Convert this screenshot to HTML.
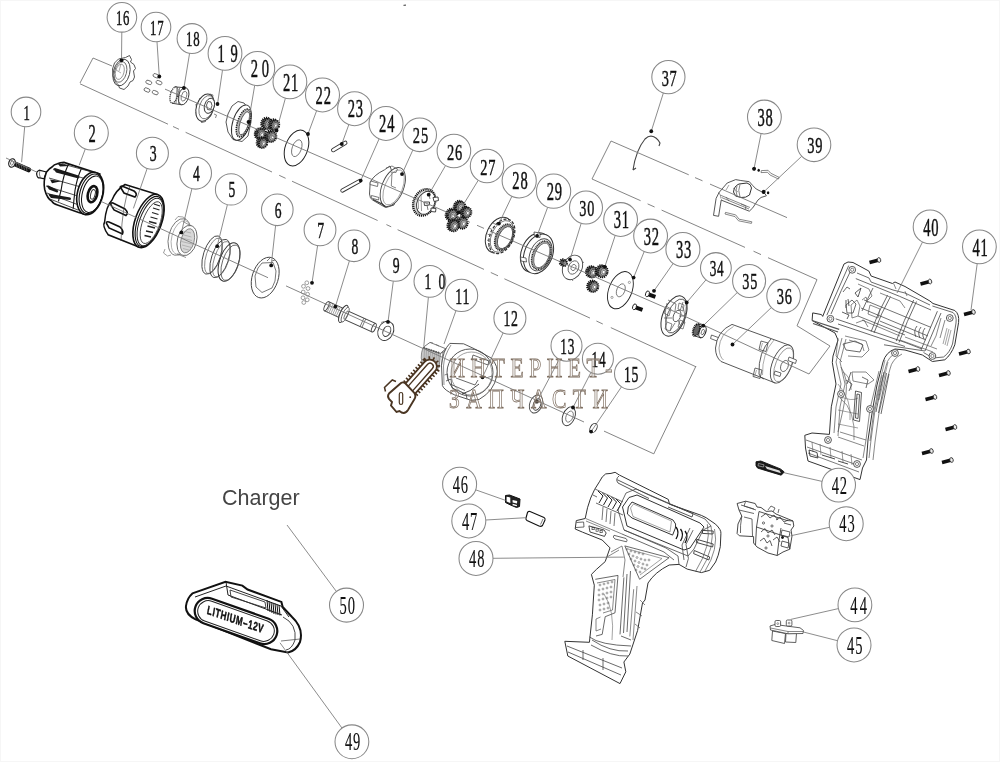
<!DOCTYPE html>
<html><head><meta charset="utf-8"><style>
html,body{margin:0;padding:0;background:#fff;}
body{width:1000px;height:762px;overflow:hidden;position:relative;font-family:"Liberation Sans",sans-serif;}
svg{position:absolute;left:0;top:0;will-change:transform;}
</style></head><body>
<svg width="1000" height="762" viewBox="0 0 1000 762">
<rect width="1000" height="762" fill="#fff"/>
<rect x="0.5" y="0.5" width="999" height="761" fill="none" stroke="#f6f6f6" stroke-width="1"/>
<path d="M403.5,5.3 L406,5.1" stroke="#333" stroke-width="1"/>
<g ><path d="M14,163.5 L28.5,169.8" stroke="#111" stroke-width="5" stroke-linecap="round"/><path d="M16,162 L17,167 M18.5,163 L19.5,168 M21,164 L22,169 M23.5,165 L24.5,170 M26,166 L27,171" stroke="#888" stroke-width="0.6"/><ellipse cx="12" cy="163" rx="3.2" ry="4.3" transform="rotate(16 12 163)" fill="#fff" stroke="#222" stroke-width="1.2"/><ellipse cx="12" cy="163" rx="1.4" ry="2.2" transform="rotate(16 12 163)" fill="none" stroke="#555" stroke-width="0.8"/></g><g ><path d="M46.5,172 L39.2,170.2 Q36,171.5 36.8,175 Q37.5,178.5 40.1,177.8 L44,178.8 Z" fill="#fff" stroke="#111" stroke-width="1.2"/><path d="M40,170.5 Q38.5,174 40.3,177.6" fill="none" stroke="#444" stroke-width="0.7"/><path d="M52,167 Q54,164.5 57.5,163.8 Q60,162.4 64,162.4 L99.8,173.9 L85.1,214.3 L78.7,212.4 L57.5,205.1 Q53,203.5 52,201.4 Q47,198.5 44.7,189.5 Q43,181 46.5,172 Q49,168.5 52,167 Z" fill="#fff" stroke="#111" stroke-width="1.6"/><path d="M68.6,163.8 Q63,176 61.2,189.5 Q59.5,196 58.5,201.4 M81.4,168.4 Q77,178 75,190.4 Q73.8,200 73.2,208.8" fill="none" stroke="#111" stroke-width="1.1"/><path d="M62,163.8 L92,172 M53,169.5 L90,180 M49,178 L88,189 M46,186 L84,198 M47,193 L80,205.5 M50,199 L78,210" fill="none" stroke="#222" stroke-width="0.8"/><path d="M54,169.5 Q52.5,168 55,168 L78.5,175.5 Q80.5,177 78.5,178.6 L56,172.4 Z" fill="#1a1a1a"/><path d="M47,186.5 Q46,185 48.5,185.5 L57.5,190 Q59,192.4 57,192.5 L49,189.5 Z" fill="#1a1a1a"/><path d="M48.6,195 Q48,193.5 50.5,194 L70.2,197.5 Q72,199 70,200 L51,198 Z" fill="#1a1a1a"/><path d="M50,179.5 L61.2,181.2 L52,183.2 Z" fill="#1a1a1a"/><path d="M58,164 Q56,163.5 58,163 L70,166 L60,166.5 Z" fill="#1a1a1a"/><ellipse cx="90.2" cy="193.5" rx="12.7" ry="21.7" transform="rotate(14.7 90.2 193.5)" fill="#fff" stroke="#111" stroke-width="1.6"/><ellipse cx="91.2" cy="193.8" rx="11.3" ry="20.3" transform="rotate(14.7 91.2 193.8)" fill="none" stroke="#111" stroke-width="1.1"/><ellipse cx="92.3" cy="194.2" rx="10" ry="18.7" transform="rotate(14.7 92.3 194.2)" fill="none" stroke="#111" stroke-width="1"/><ellipse cx="92.5" cy="194.2" rx="4.6" ry="8.2" transform="rotate(14.7 92.5 194.2)" fill="none" stroke="#111" stroke-width="2.6"/><ellipse cx="92.9" cy="194.4" rx="2.2" ry="4.9" transform="rotate(14.7 92.9 194.4)" fill="none" stroke="#333" stroke-width="1"/></g><g ><path d="M125,184.5 L157.4,194.6 L138.2,246.8 L108.2,234.8 Q102,226 104.6,222 Q106,206 112,200 Q116,190 125,184.5 Z" fill="#fff" stroke="#111" stroke-width="1.5"/><path d="M121,188 Q119,186.5 122,186 L134,191 Q138,194 135,197 L124,193 Z" fill="none" stroke="#111" stroke-width="1.6"/><path d="M111,205 Q110,202.5 113,203 L125,209 Q129,213 126,215.5 L114,210 Z" fill="none" stroke="#111" stroke-width="1.6"/><path d="M106.5,223.5 Q106,221 109,222 L120,227 Q124,231 122.5,234 L109,228 Z" fill="none" stroke="#111" stroke-width="1.6"/><path d="M130,186 Q122,205 121,241" fill="none" stroke="#333" stroke-width="0.6"/><ellipse cx="148.5" cy="221" rx="13.2" ry="28" transform="rotate(20 148.5 221)" fill="#fff" stroke="#111" stroke-width="1.6"/><ellipse cx="149.4" cy="221.5" rx="11.8" ry="26.4" transform="rotate(20 149.4 221.5)" fill="none" stroke="#111" stroke-width="1.1"/><ellipse cx="150.2" cy="222" rx="10.6" ry="25" transform="rotate(20 150.2 222)" fill="none" stroke="#222" stroke-width="1"/><ellipse cx="151.2" cy="222.6" rx="8.6" ry="22" transform="rotate(20 151.2 222.6)" fill="none" stroke="#333" stroke-width="0.8"/><path d="M154,204 L160,206 M153,208 L159.5,210 M152,212.5 L158.5,214.5 M150.5,217 L157.5,219 M149,221.5 L156.5,223.5 M147.5,226 L155,228 M146,231 L153,232.5 M144.5,235.5 L151,237" stroke="#222" stroke-width="1.3" fill="none"/></g><g ><ellipse cx="179.5" cy="237" rx="10.8" ry="18.8" transform="rotate(15 179.5 237)" fill="#fff" stroke="#666" stroke-width="0.8"/><ellipse cx="181" cy="237.5" rx="9.2" ry="17.2" transform="rotate(15 181 237.5)" fill="none" stroke="#888" stroke-width="0.6"/><path d="M175,220 L178,216.5 L183,217 L186,219 M165,249 L163.5,253 L167.5,256 L171,255" fill="none" stroke="#777" stroke-width="0.7"/><path d="M183,221.5 L192,226.5 M177,254 L186,257.5" fill="none" stroke="#666" stroke-width="0.7"/><ellipse cx="187" cy="240.5" rx="9.6" ry="15.4" transform="rotate(15 187 240.5)" fill="#fff" stroke="#555" stroke-width="0.8"/><ellipse cx="187.5" cy="240.8" rx="6.6" ry="12.4" transform="rotate(15 187.5 240.8)" fill="#d8d8d8" stroke="#666" stroke-width="0.7"/><path d="M183,231 L191,233 M182,234.5 L191.5,237 M181.5,238 L192,240.5 M181.5,241.5 L192,244 M182,245 L191.5,247.5 M183,248.5 L190.5,250.5" stroke="#999" stroke-width="0.6"/></g><g ><ellipse cx="212" cy="255" rx="8.5" ry="20" transform="rotate(18 212 255)" fill="none" stroke="#444" stroke-width="0.9"/><ellipse cx="213.5" cy="255.8" rx="7.2" ry="18.5" transform="rotate(18 213.5 255.8)" fill="none" stroke="#666" stroke-width="0.7"/><ellipse cx="220" cy="258.5" rx="8.5" ry="20" transform="rotate(18 220 258.5)" fill="none" stroke="#444" stroke-width="0.9"/><ellipse cx="221.5" cy="259.2" rx="7.2" ry="18.5" transform="rotate(18 221.5 259.2)" fill="none" stroke="#666" stroke-width="0.7"/><ellipse cx="229" cy="262" rx="9.5" ry="20" transform="rotate(18 229 262)" fill="none" stroke="#333" stroke-width="1"/><ellipse cx="230.5" cy="262.7" rx="8.1" ry="18.5" transform="rotate(18 230.5 262.7)" fill="none" stroke="#555" stroke-width="0.8"/></g><g ><ellipse cx="265.2" cy="277.6" rx="13" ry="21" transform="rotate(18 265.2 277.6)" fill="#fff" stroke="#444" stroke-width="0.9"/><path d="M262,263 L273,262.5 L276,271 L275,281 L272,288 L262,292.5 L256,287 L255,276 L258,268 Z" fill="none" stroke="#555" stroke-width="0.8"/><path d="M267,261 L270,258 M272,261 L275,260" stroke="#555" stroke-width="0.8"/></g><circle cx="306.8" cy="282.8" r="1.9" fill="none" stroke="#777" stroke-width="0.7"/><circle cx="303.5" cy="286.3" r="1.9" fill="none" stroke="#777" stroke-width="0.7"/><circle cx="308" cy="288.5" r="1.9" fill="none" stroke="#777" stroke-width="0.7"/><circle cx="303.2" cy="292" r="1.9" fill="none" stroke="#777" stroke-width="0.7"/><circle cx="307.6" cy="294.2" r="1.9" fill="none" stroke="#777" stroke-width="0.7"/><circle cx="303" cy="297.8" r="1.9" fill="none" stroke="#777" stroke-width="0.7"/><circle cx="307.2" cy="299.8" r="1.9" fill="none" stroke="#777" stroke-width="0.7"/><circle cx="303.8" cy="302.5" r="1.9" fill="none" stroke="#777" stroke-width="0.7"/><g transform="translate(326.5 306.2) rotate(24.5)"><rect x="0" y="-5" width="17" height="10" fill="#fff" stroke="#444" stroke-width="0.9"/><path d="M3,-5 L3,5 M5,-5 L5,5 M7,-5 L7,5 M9,-5 L9,5 M11,-5 L11,5 M13,-5 L13,5 M15,-5 L15,5" stroke="#999" stroke-width="0.8"/><ellipse cx="0" cy="0" rx="1.8" ry="5" transform="rotate(0 0 0)" fill="#fff" stroke="#444" stroke-width="0.9"/><rect x="20" y="-4.6" width="32" height="9.2" fill="#fff" stroke="#444" stroke-width="0.9"/><path d="M39,-4.6 L39,4.6 M41,-4.6 L41,4.6" stroke="#555" stroke-width="0.7"/><ellipse cx="52" cy="0" rx="1.7" ry="4.6" transform="rotate(0 52 0)" fill="#fff" stroke="#444" stroke-width="0.9"/><ellipse cx="18.5" cy="0" rx="3.2" ry="9.3" transform="rotate(0 18.5 0)" fill="#fff" stroke="#333" stroke-width="1"/><ellipse cx="20.5" cy="0" rx="2.6" ry="8" transform="rotate(0 20.5 0)" fill="#fff" stroke="#555" stroke-width="0.8"/><ellipse cx="21.5" cy="0" rx="1.2" ry="4.6" transform="rotate(0 21.5 0)" fill="none" stroke="#555" stroke-width="0.7"/></g><g ><ellipse cx="385.8" cy="330.9" rx="7.6" ry="10" transform="rotate(25 385.8 330.9)" fill="#fff" stroke="#333" stroke-width="0.9"/><ellipse cx="386.8" cy="331.3" rx="3.6" ry="5.4" transform="rotate(25 386.8 331.3)" fill="none" stroke="#444" stroke-width="1"/><path d="M381,322.5 L384,321.5" stroke="#555" stroke-width="0.6"/></g>
<g ><path d="M125.5,57.5 L129.5,55.5 L131.5,59.5 L130.5,62 L134,64.5 L135.5,68.5 L133.5,71 L134.5,77 L133,80.5 L130,82 L128,86 L124,89.5 L119.5,88 L118.5,85 L115.5,82 L113,76 L112.5,69 L114.5,63 L118.5,59 Z" fill="#fff" stroke="#444" stroke-width="0.9"/><ellipse cx="121.5" cy="72.5" rx="8.2" ry="13.6" transform="rotate(15 121.5 72.5)" fill="none" stroke="#444" stroke-width="0.9"/><ellipse cx="120.5" cy="72" rx="6" ry="10.5" transform="rotate(15 120.5 72)" fill="none" stroke="#555" stroke-width="0.8"/><ellipse cx="119.8" cy="71.8" rx="4.2" ry="7.8" transform="rotate(15 119.8 71.8)" fill="none" stroke="#777" stroke-width="0.7"/><path d="M114.5,69 L121,73 M121,64 L119,71" stroke="#777" stroke-width="0.6"/></g><rect x="153" y="74.1" width="6" height="3.4" rx="1.6" transform="rotate(22 156 75.8)" fill="#fff" stroke="#555" stroke-width="0.8"/><rect x="145.8" y="80.7" width="6" height="3.4" rx="1.6" transform="rotate(22 148.8 82.4)" fill="#fff" stroke="#555" stroke-width="0.8"/><rect x="156" y="80.89999999999999" width="6" height="3.4" rx="1.6" transform="rotate(22 159 82.6)" fill="#fff" stroke="#555" stroke-width="0.8"/><rect x="144" y="88.3" width="6" height="3.4" rx="1.6" transform="rotate(22 147 90)" fill="#fff" stroke="#555" stroke-width="0.8"/><rect x="152.2" y="90.89999999999999" width="6" height="3.4" rx="1.6" transform="rotate(22 155.2 92.6)" fill="#fff" stroke="#555" stroke-width="0.8"/><g ><path d="M173,87 L183,87.5 L187.5,105 L175,103 Z" fill="#fff" stroke="none"/><ellipse cx="174" cy="95" rx="3.6" ry="8.3" transform="rotate(15 174 95)" fill="#fff" stroke="#333" stroke-width="1.3" stroke-dasharray="1.2 0.8"/><ellipse cx="183.6" cy="96.2" rx="5" ry="8.8" transform="rotate(15 183.6 96.2)" fill="#fff" stroke="#333" stroke-width="0.9"/><path d="M174.5,86.8 L183,87.6 M172,103.2 L181.5,104.8" stroke="#333" stroke-width="0.9"/><path d="M177,88 L176,103.5 M179.5,88 L178.5,104" stroke="#555" stroke-width="0.7"/><ellipse cx="184" cy="96.2" rx="2.5" ry="5" transform="rotate(15 184 96.2)" fill="none" stroke="#555" stroke-width="0.7"/></g><g ><path d="M199,99 L203,97 L203.5,100 M196,104 L200,103 L200.5,107 L196.5,108 Z M196,112 L200,111 L200.5,115 L196.5,116 Z M201,119 L205,118 L205.5,121.5 L201.5,122.5 Z" fill="#fff" stroke="#444" stroke-width="0.8"/><ellipse cx="205" cy="107.6" rx="8.6" ry="14" transform="rotate(18 205 107.6)" fill="#fff" stroke="#333" stroke-width="1"/><ellipse cx="206.5" cy="107.2" rx="7" ry="12" transform="rotate(18 206.5 107.2)" fill="none" stroke="#555" stroke-width="0.7"/><ellipse cx="209.4" cy="105.8" rx="4.8" ry="7.8" transform="rotate(18 209.4 105.8)" fill="#fff" stroke="#333" stroke-width="0.9"/><path d="M208,101.5 L211,102 L212,105.5 L210.5,110 L207.5,109.5 L206.5,105 Z" fill="none" stroke="#333" stroke-width="0.8"/><path d="M210,94 L213,95 L212.5,98 M214,114 L216.5,115 L215.5,118" fill="none" stroke="#555" stroke-width="0.7"/></g><g ><path d="M238,101.5 L244,103 L249.5,110 L251,122 L248,136 L242,141.5 L233,139.5 L228,132 L226,122 L228,114 L232,106 Z" fill="#fff" stroke="#444" stroke-width="0.9"/><ellipse cx="241.4" cy="122.6" rx="8.6" ry="18.4" transform="rotate(18 241.4 122.6)" fill="#fff" stroke="#333" stroke-width="1"/><ellipse cx="243.5" cy="123" rx="6" ry="14.5" transform="rotate(18 243.5 123)" fill="#bbb" stroke="#222" stroke-width="1.6" stroke-dasharray="1.3 0.9"/><ellipse cx="244.3" cy="123.2" rx="4.2" ry="12" transform="rotate(18 244.3 123.2)" fill="#fff" stroke="#444" stroke-width="0.8"/></g><g ><ellipse cx="265.79999999999995" cy="123.1" rx="4.428" ry="5.4" transform="rotate(20 265.79999999999995 123.1)" fill="#555" stroke="#111" stroke-width="2.1" stroke-dasharray="1.1 0.8"/><ellipse cx="267.9" cy="124.0" rx="4.32" ry="5.292" transform="rotate(20 267.9 124.0)" fill="#888" stroke="#111" stroke-width="1.9" stroke-dasharray="1.1 0.8"/><ellipse cx="268.4" cy="124.2" rx="2.7" ry="3.3480000000000003" transform="rotate(20 268.4 124.2)" fill="#bbb" stroke="#333" stroke-width="0.6"/><ellipse cx="268.59999999999997" cy="124.3" rx="1.35" ry="1.7280000000000002" transform="rotate(20 268.59999999999997 124.3)" fill="#fff" stroke="#333" stroke-width="0.5"/></g><g ><ellipse cx="273.0" cy="124.3" rx="4.1" ry="5" transform="rotate(20 273.0 124.3)" fill="#555" stroke="#111" stroke-width="2.1" stroke-dasharray="1.1 0.8"/><ellipse cx="275.1" cy="125.2" rx="4.0" ry="4.9" transform="rotate(20 275.1 125.2)" fill="#888" stroke="#111" stroke-width="1.9" stroke-dasharray="1.1 0.8"/><ellipse cx="275.6" cy="125.4" rx="2.5" ry="3.1" transform="rotate(20 275.6 125.4)" fill="#bbb" stroke="#333" stroke-width="0.6"/><ellipse cx="275.8" cy="125.5" rx="1.25" ry="1.6" transform="rotate(20 275.8 125.5)" fill="#fff" stroke="#333" stroke-width="0.5"/></g><g ><ellipse cx="259.4" cy="133.5" rx="4.428" ry="5.4" transform="rotate(20 259.4 133.5)" fill="#555" stroke="#111" stroke-width="2.1" stroke-dasharray="1.1 0.8"/><ellipse cx="261.5" cy="134.39999999999998" rx="4.32" ry="5.292" transform="rotate(20 261.5 134.39999999999998)" fill="#888" stroke="#111" stroke-width="1.9" stroke-dasharray="1.1 0.8"/><ellipse cx="262.0" cy="134.6" rx="2.7" ry="3.3480000000000003" transform="rotate(20 262.0 134.6)" fill="#bbb" stroke="#333" stroke-width="0.6"/><ellipse cx="262.2" cy="134.7" rx="1.35" ry="1.7280000000000002" transform="rotate(20 262.2 134.7)" fill="#fff" stroke="#333" stroke-width="0.5"/></g><g ><ellipse cx="269.79999999999995" cy="135.9" rx="4.428" ry="5.4" transform="rotate(20 269.79999999999995 135.9)" fill="#555" stroke="#111" stroke-width="2.1" stroke-dasharray="1.1 0.8"/><ellipse cx="271.9" cy="136.79999999999998" rx="4.32" ry="5.292" transform="rotate(20 271.9 136.79999999999998)" fill="#888" stroke="#111" stroke-width="1.9" stroke-dasharray="1.1 0.8"/><ellipse cx="272.4" cy="137.0" rx="2.7" ry="3.3480000000000003" transform="rotate(20 272.4 137.0)" fill="#bbb" stroke="#333" stroke-width="0.6"/><ellipse cx="272.59999999999997" cy="137.1" rx="1.35" ry="1.7280000000000002" transform="rotate(20 272.59999999999997 137.1)" fill="#fff" stroke="#333" stroke-width="0.5"/></g><g ><ellipse cx="261.0" cy="142.3" rx="4.1" ry="5" transform="rotate(20 261.0 142.3)" fill="#555" stroke="#111" stroke-width="2.1" stroke-dasharray="1.1 0.8"/><ellipse cx="263.1" cy="143.2" rx="4.0" ry="4.9" transform="rotate(20 263.1 143.2)" fill="#888" stroke="#111" stroke-width="1.9" stroke-dasharray="1.1 0.8"/><ellipse cx="263.6" cy="143.4" rx="2.5" ry="3.1" transform="rotate(20 263.6 143.4)" fill="#bbb" stroke="#333" stroke-width="0.6"/><ellipse cx="263.8" cy="143.5" rx="1.25" ry="1.6" transform="rotate(20 263.8 143.5)" fill="#fff" stroke="#333" stroke-width="0.5"/></g><g ><ellipse cx="296.5" cy="148" rx="11.2" ry="18.6" transform="rotate(20 296.5 148)" fill="#fff" stroke="#222" stroke-width="1"/><ellipse cx="296.8" cy="148.2" rx="4.6" ry="8.8" transform="rotate(20 296.8 148.2)" fill="none" stroke="#666" stroke-width="0.8"/></g><rect x="330.5" y="144.8" width="17.5" height="3.4" rx="1.7" transform="rotate(-31 339.2 146.5)" fill="#fff" stroke="#333" stroke-width="0.9"/><rect x="339.5" y="184.2" width="23" height="3.2" rx="1.6" transform="rotate(-29 351 185.8)" fill="#fff" stroke="#333" stroke-width="0.9"/><g ><path d="M390,166 L384.5,169.8 Q373,175.5 370.2,182.5 L369.5,194 Q370,198.5 372.2,199.8 L382,205.5 L386,207.5 L394,205 L398,190 Z" fill="#fff" stroke="#444" stroke-width="0.9"/><ellipse cx="392.8" cy="187" rx="10.8" ry="20.6" transform="rotate(22 392.8 187)" fill="#fff" stroke="#444" stroke-width="0.9"/><ellipse cx="393.6" cy="187.4" rx="8.8" ry="18.6" transform="rotate(22 393.6 187.4)" fill="none" stroke="#777" stroke-width="0.6"/><path d="M370.5,181 L378,183 L377.5,186.5 L370,184.5 Z M371.5,195.5 L379,197.5 L378.5,200 L371.2,198 Z" fill="#fff" stroke="#555" stroke-width="0.8"/><path d="M373,199.5 L382,204 L385.5,207" fill="none" stroke="#333" stroke-width="1.1"/><path d="M392,172.5 L391.3,186 L396,188 M386,168 L392,166 L397.5,169 L396,172.5 L390.5,172" fill="none" stroke="#555" stroke-width="0.7"/></g><g ><ellipse cx="424.2" cy="202.4" rx="10.4" ry="13.8" transform="rotate(25 424.2 202.4)" fill="#ddd" stroke="#111" stroke-width="2.4" stroke-dasharray="1.1 0.8"/><ellipse cx="425.8" cy="202.8" rx="8.6" ry="12" transform="rotate(25 425.8 202.8)" fill="#fff" stroke="#333" stroke-width="0.9"/><path d="M418,197 L418.5,209 M421,195 L421.5,211" stroke="#555" stroke-width="0.6"/><path d="M433,197.5 L438,197 L438.5,200.5 L434,201.5 Z M424,202 L429.5,202 L429.5,205 L424.5,205.5 Z M431,208 L436,208.5 L435.5,212 L431,211.5 Z" fill="#fff" stroke="#333" stroke-width="0.9"/><path d="M427,205 L428,210 M429,195 L430,199" stroke="#444" stroke-width="0.7"/></g><g ><ellipse cx="458.59999999999997" cy="206.5" rx="4.755999999999999" ry="5.8" transform="rotate(20 458.59999999999997 206.5)" fill="#555" stroke="#111" stroke-width="2.1" stroke-dasharray="1.1 0.8"/><ellipse cx="460.7" cy="207.39999999999998" rx="4.64" ry="5.684" transform="rotate(20 460.7 207.39999999999998)" fill="#888" stroke="#111" stroke-width="1.9" stroke-dasharray="1.1 0.8"/><ellipse cx="461.2" cy="207.6" rx="2.9" ry="3.596" transform="rotate(20 461.2 207.6)" fill="#bbb" stroke="#333" stroke-width="0.6"/><ellipse cx="461.4" cy="207.7" rx="1.45" ry="1.8559999999999999" transform="rotate(20 461.4 207.7)" fill="#fff" stroke="#333" stroke-width="0.5"/></g><g ><ellipse cx="465.0" cy="211.8" rx="4.264" ry="5.2" transform="rotate(20 465.0 211.8)" fill="#555" stroke="#111" stroke-width="2.1" stroke-dasharray="1.1 0.8"/><ellipse cx="467.1" cy="212.7" rx="4.16" ry="5.096" transform="rotate(20 467.1 212.7)" fill="#888" stroke="#111" stroke-width="1.9" stroke-dasharray="1.1 0.8"/><ellipse cx="467.6" cy="212.9" rx="2.6" ry="3.224" transform="rotate(20 467.6 212.9)" fill="#bbb" stroke="#333" stroke-width="0.6"/><ellipse cx="467.8" cy="213.0" rx="1.3" ry="1.6640000000000001" transform="rotate(20 467.8 213.0)" fill="#fff" stroke="#333" stroke-width="0.5"/></g><g ><ellipse cx="450.59999999999997" cy="214.5" rx="4.755999999999999" ry="5.8" transform="rotate(20 450.59999999999997 214.5)" fill="#555" stroke="#111" stroke-width="2.1" stroke-dasharray="1.1 0.8"/><ellipse cx="452.7" cy="215.39999999999998" rx="4.64" ry="5.684" transform="rotate(20 452.7 215.39999999999998)" fill="#888" stroke="#111" stroke-width="1.9" stroke-dasharray="1.1 0.8"/><ellipse cx="453.2" cy="215.6" rx="2.9" ry="3.596" transform="rotate(20 453.2 215.6)" fill="#bbb" stroke="#333" stroke-width="0.6"/><ellipse cx="453.4" cy="215.7" rx="1.45" ry="1.8559999999999999" transform="rotate(20 453.4 215.7)" fill="#fff" stroke="#333" stroke-width="0.5"/></g><g ><ellipse cx="461.0" cy="222.5" rx="4.592" ry="5.6" transform="rotate(20 461.0 222.5)" fill="#555" stroke="#111" stroke-width="2.1" stroke-dasharray="1.1 0.8"/><ellipse cx="463.1" cy="223.39999999999998" rx="4.4799999999999995" ry="5.4879999999999995" transform="rotate(20 463.1 223.39999999999998)" fill="#888" stroke="#111" stroke-width="1.9" stroke-dasharray="1.1 0.8"/><ellipse cx="463.6" cy="223.6" rx="2.8" ry="3.472" transform="rotate(20 463.6 223.6)" fill="#bbb" stroke="#333" stroke-width="0.6"/><ellipse cx="463.8" cy="223.7" rx="1.4" ry="1.7919999999999998" transform="rotate(20 463.8 223.7)" fill="#fff" stroke="#333" stroke-width="0.5"/></g><g ><ellipse cx="452.2" cy="225.10000000000002" rx="4.592" ry="5.6" transform="rotate(20 452.2 225.10000000000002)" fill="#555" stroke="#111" stroke-width="2.1" stroke-dasharray="1.1 0.8"/><ellipse cx="454.3" cy="226.0" rx="4.4799999999999995" ry="5.4879999999999995" transform="rotate(20 454.3 226.0)" fill="#888" stroke="#111" stroke-width="1.9" stroke-dasharray="1.1 0.8"/><ellipse cx="454.8" cy="226.20000000000002" rx="2.8" ry="3.472" transform="rotate(20 454.8 226.20000000000002)" fill="#bbb" stroke="#333" stroke-width="0.6"/><ellipse cx="455.0" cy="226.3" rx="1.4" ry="1.7919999999999998" transform="rotate(20 455.0 226.3)" fill="#fff" stroke="#333" stroke-width="0.5"/></g><g ><ellipse cx="499" cy="235" rx="12.3" ry="18.8" transform="rotate(25 499 235)" fill="#fff" stroke="#333" stroke-width="1"/><ellipse cx="501.8" cy="236.3" rx="11.6" ry="18.2" transform="rotate(25 501.8 236.3)" fill="#fff" stroke="#333" stroke-width="1.3" stroke-dasharray="3 1.6"/><ellipse cx="502" cy="236.4" rx="10.4" ry="16.8" transform="rotate(25 502 236.4)" fill="none" stroke="#555" stroke-width="0.7"/><path d="M489,228 L492,229.5 M487.5,234 L490.5,235.5 M487,240 L490,241.5 M488,246 L491,247.5 M490.5,251 L493.5,252.5 M493,223 L496,224.5" stroke="#666" stroke-width="0.8"/><ellipse cx="504.2" cy="237.2" rx="8.2" ry="13.8" transform="rotate(25 504.2 237.2)" fill="#999" stroke="#222" stroke-width="1.8" stroke-dasharray="1 0.75"/><ellipse cx="505" cy="237.6" rx="6.4" ry="11.8" transform="rotate(25 505 237.6)" fill="#fff" stroke="#444" stroke-width="0.8"/></g><g ><ellipse cx="535.5" cy="252.5" rx="14" ry="20.6" transform="rotate(22 535.5 252.5)" fill="#fff" stroke="#333" stroke-width="1"/><ellipse cx="538.5" cy="253.8" rx="14" ry="20.6" transform="rotate(22 538.5 253.8)" fill="#fff" stroke="#333" stroke-width="1"/><ellipse cx="540.5" cy="254.8" rx="10.5" ry="16.8" transform="rotate(22 540.5 254.8)" fill="#fff" stroke="#444" stroke-width="0.9"/><ellipse cx="541.3" cy="255.2" rx="8.6" ry="14.8" transform="rotate(22 541.3 255.2)" fill="#aaa" stroke="#222" stroke-width="1.5" stroke-dasharray="1 0.7"/><ellipse cx="541.8" cy="255.4" rx="7" ry="13" transform="rotate(22 541.8 255.4)" fill="#fff" stroke="#555" stroke-width="0.7"/><path d="M520.5,257 L526,258 L526.5,262 L521,261 Z M534,232 L540,233 L540,237.5 L534.5,236.5 Z" fill="#fff" stroke="#444" stroke-width="0.8"/></g><g ><ellipse cx="572.5" cy="267.4" rx="9.5" ry="12.8" transform="rotate(25 572.5 267.4)" fill="#fff" stroke="#444" stroke-width="0.9"/><ellipse cx="573.5" cy="267.5" rx="5" ry="7" transform="rotate(25 573.5 267.5)" fill="none" stroke="#555" stroke-width="0.8"/><ellipse cx="573.5" cy="267.5" rx="2.4" ry="3.2" transform="rotate(25 573.5 267.5)" fill="none" stroke="#555" stroke-width="0.7"/><g ><ellipse cx="562.4" cy="262.3" rx="2.46" ry="3" transform="rotate(20 562.4 262.3)" fill="#555" stroke="#111" stroke-width="2.1" stroke-dasharray="1.1 0.8"/><ellipse cx="564.5" cy="263.2" rx="2.4000000000000004" ry="2.94" transform="rotate(20 564.5 263.2)" fill="#777" stroke="#111" stroke-width="1.9" stroke-dasharray="1.1 0.8"/><ellipse cx="565.0" cy="263.4" rx="1.5" ry="1.8599999999999999" transform="rotate(20 565.0 263.4)" fill="#bbb" stroke="#333" stroke-width="0.6"/><ellipse cx="565.2" cy="263.5" rx="0.75" ry="0.96" transform="rotate(20 565.2 263.5)" fill="#fff" stroke="#333" stroke-width="0.5"/></g><path d="M582,262 L584,262.5 M571.5,279 L573,281" stroke="#555" stroke-width="0.7"/></g><g ><ellipse cx="590.6" cy="271.5" rx="4.428" ry="5.4" transform="rotate(20 590.6 271.5)" fill="#555" stroke="#111" stroke-width="2.1" stroke-dasharray="1.1 0.8"/><ellipse cx="592.7" cy="272.4" rx="4.32" ry="5.292" transform="rotate(20 592.7 272.4)" fill="#888" stroke="#111" stroke-width="1.9" stroke-dasharray="1.1 0.8"/><ellipse cx="593.2" cy="272.59999999999997" rx="2.7" ry="3.3480000000000003" transform="rotate(20 593.2 272.59999999999997)" fill="#bbb" stroke="#333" stroke-width="0.6"/><ellipse cx="593.4000000000001" cy="272.7" rx="1.35" ry="1.7280000000000002" transform="rotate(20 593.4000000000001 272.7)" fill="#fff" stroke="#333" stroke-width="0.5"/></g><g ><ellipse cx="600.8" cy="270.90000000000003" rx="4.755999999999999" ry="5.8" transform="rotate(20 600.8 270.90000000000003)" fill="#555" stroke="#111" stroke-width="2.1" stroke-dasharray="1.1 0.8"/><ellipse cx="602.9" cy="271.8" rx="4.64" ry="5.684" transform="rotate(20 602.9 271.8)" fill="#888" stroke="#111" stroke-width="1.9" stroke-dasharray="1.1 0.8"/><ellipse cx="603.4" cy="272.0" rx="2.9" ry="3.596" transform="rotate(20 603.4 272.0)" fill="#bbb" stroke="#333" stroke-width="0.6"/><ellipse cx="603.6" cy="272.1" rx="1.45" ry="1.8559999999999999" transform="rotate(20 603.6 272.1)" fill="#fff" stroke="#333" stroke-width="0.5"/></g><g ><ellipse cx="591.8" cy="285.90000000000003" rx="4.428" ry="5.4" transform="rotate(20 591.8 285.90000000000003)" fill="#555" stroke="#111" stroke-width="2.1" stroke-dasharray="1.1 0.8"/><ellipse cx="593.9" cy="286.8" rx="4.32" ry="5.292" transform="rotate(20 593.9 286.8)" fill="#888" stroke="#111" stroke-width="1.9" stroke-dasharray="1.1 0.8"/><ellipse cx="594.4" cy="287.0" rx="2.7" ry="3.3480000000000003" transform="rotate(20 594.4 287.0)" fill="#bbb" stroke="#333" stroke-width="0.6"/><ellipse cx="594.6" cy="287.1" rx="1.35" ry="1.7280000000000002" transform="rotate(20 594.6 287.1)" fill="#fff" stroke="#333" stroke-width="0.5"/></g><g ><ellipse cx="620.4" cy="290.2" rx="11.5" ry="19.5" transform="rotate(22 620.4 290.2)" fill="#fff" stroke="#222" stroke-width="0.9"/><ellipse cx="620.8" cy="290.3" rx="4" ry="6.8" transform="rotate(22 620.8 290.3)" fill="none" stroke="#555" stroke-width="0.7"/><circle cx="629.4" cy="282.4" r="1.1" fill="none" stroke="#666" stroke-width="0.6"/><circle cx="612" cy="297.4" r="1.1" fill="none" stroke="#666" stroke-width="0.6"/></g><g ><path d="M648.4,294.3 L655.4,296.8" stroke="#111" stroke-width="4" stroke-linecap="butt"/><ellipse cx="647.4" cy="293.8" rx="1.8" ry="3" transform="rotate(20 647.4 293.8)" fill="#fff" stroke="#222" stroke-width="0.9"/></g><g ><path d="M635.5,307.3 L642.5,309.8" stroke="#111" stroke-width="4" stroke-linecap="butt"/><ellipse cx="634.5" cy="306.8" rx="1.8" ry="3" transform="rotate(20 634.5 306.8)" fill="#fff" stroke="#222" stroke-width="0.9"/></g><g ><ellipse cx="674" cy="316" rx="11.2" ry="21.2" transform="rotate(22 674 316)" fill="#fff" stroke="#333" stroke-width="1"/><ellipse cx="676" cy="316" rx="8.5" ry="18" transform="rotate(22 676 316)" fill="none" stroke="#444" stroke-width="0.8"/><ellipse cx="677" cy="316" rx="3.5" ry="6" transform="rotate(22 677 316)" fill="none" stroke="#444" stroke-width="0.8"/><path d="M668,300 L676,304 L675,311 M683,302 L680,311 M664,318 L672,318 M670,331 L675,323 M681,327 L678,320 M685,316 L679,316" stroke="#666" stroke-width="0.8" fill="none"/><path d="M666,306 L671,309 L669,316 L664,313 Z M679,303 L684,305 L683,311 L678,309 Z M667,322 L672,324 L670,331 L665,329 Z M680,320 L685,322 L683,329 L678,327 Z" stroke="#555" stroke-width="0.7" fill="none"/><path d="M667,303 Q664,312 666,322 M682,306 Q686,312 684,324" stroke="#555" stroke-width="0.7" fill="none"/></g><g ><path d="M696,323.5 L702,325.5 L704,337.5 L698,336.5 Z" fill="#fff" stroke="none"/><ellipse cx="696.5" cy="330" rx="3.2" ry="6.4" transform="rotate(20 696.5 330)" fill="#666" stroke="#111" stroke-width="2" stroke-dasharray="1 0.8"/><ellipse cx="702.5" cy="331.8" rx="3.2" ry="6.2" transform="rotate(20 702.5 331.8)" fill="#fff" stroke="#222" stroke-width="1.1"/><ellipse cx="702.8" cy="332" rx="1.4" ry="2.8" transform="rotate(20 702.8 332)" fill="none" stroke="#444" stroke-width="0.7"/><path d="M698,324 L704.6,326 M695.6,336.2 L700.6,337.8" stroke="#333" stroke-width="0.9"/></g><g ><path d="M711.5,335 L720,338.2 L719,341.8 L710.5,338.5 Z" fill="#fff" stroke="#444" stroke-width="0.8"/><path d="M732,324.4 L789.6,345.3 L774.4,382.7 L721,361.5 Q715.5,357 715.5,348 Q717,331 732,324.4 Z" fill="#fff" stroke="#444" stroke-width="0.9"/><path d="M733.5,326.5 Q720,334 719,348 Q719.5,357 723.5,360" fill="none" stroke="#666" stroke-width="0.6"/><path d="M771,339 Q758,352 759,374 Q760,378 764,379" fill="none" stroke="#444" stroke-width="0.9"/><path d="M774,340 Q762,353 762.5,375" fill="none" stroke="#777" stroke-width="0.6"/><ellipse cx="782" cy="364" rx="9.6" ry="20.2" transform="rotate(22 782 364)" fill="#fff" stroke="#444" stroke-width="0.9"/><ellipse cx="783.5" cy="364.8" rx="7.8" ry="18" transform="rotate(22 783.5 364.8)" fill="none" stroke="#666" stroke-width="0.6"/><ellipse cx="784.5" cy="366" rx="3.6" ry="5.8" transform="rotate(22 784.5 366)" fill="none" stroke="#555" stroke-width="0.8"/><path d="M761,341 L768,343 L766,351.5 L759,349.5 Z M755,368 L762,370 L760,378.5 L753,376.5 Z" fill="none" stroke="#444" stroke-width="0.8"/><path d="M762.5,343 L760.5,350 M756.5,370 L754.5,377" fill="none" stroke="#777" stroke-width="0.6"/><path d="M789,357 L796.5,360 L795.5,363.5 L788,360.5 Z M775,371 L781,373 L780,376.5 L774,374.5 Z" fill="#fff" stroke="#444" stroke-width="0.8"/></g><path d="M633,170 Q636,150 645,139 Q648,136 651,136 Q657,137 660,143 L659,146 M633,170 L636,168" fill="none" stroke="#444" stroke-width="1.1"/><g ><path d="M719.1,192.4 L727.2,183 L735.7,179.6 L740.8,180.5 L749.3,181.7 L752.8,185.6 L756.2,189 L764.7,193.3 L766.4,195.8 Q760,197 757.9,200.1 L752.8,207.8 L749.3,211.2 L721,200 Z" fill="#fff" stroke="#444" stroke-width="0.9"/><path d="M719.1,192.4 L716.1,198.4 L713.5,215.4 L718.6,216.3 L721.2,200.1" fill="#fff" stroke="#444" stroke-width="0.9"/><path d="M720,195 L750,207.5 M721.5,197.5 L749,209 M741,204 L746,206 L745.5,209 M726,197 L729,201" fill="none" stroke="#555" stroke-width="0.7"/><path d="M733.5,192 Q734,186 739,184 L747,183 Q751,184 751.5,188 L749.5,195 Q746,198 741,197.5 L735.5,196 Z" fill="#fff" stroke="#333" stroke-width="1"/><path d="M737,186 Q735,190 737,196 M740,184.5 Q737.5,190 740,197" fill="none" stroke="#555" stroke-width="0.7"/><path d="M729,185 L726,190 M738,192 L733,188" fill="none" stroke="#666" stroke-width="0.6"/><path d="M761.3,170.6 L768.1,170.3 L770.7,173.2 L779.2,177.4 L778.4,179 L770,175 L767.5,172.3 L761,172.6 Z" fill="#fff" stroke="#555" stroke-width="0.7"/><path d="M725.5,212.4 L735.7,214.9 L739.1,219.2 L751.9,221.8 L751.4,223.4 L738.5,220.8 L735,216.6 L725,214 Z" fill="#fff" stroke="#555" stroke-width="0.7"/><ellipse cx="754.2" cy="168.6" rx="1.5" ry="1.9" transform="rotate(0 754.2 168.6)" fill="#111"/><ellipse cx="758.7" cy="170.2" rx="1.2" ry="1.5" transform="rotate(0 758.7 170.2)" fill="#111"/><ellipse cx="763.8" cy="191.6" rx="1.5" ry="1.9" transform="rotate(0 763.8 191.6)" fill="#111"/><ellipse cx="768.1" cy="192.8" rx="1.2" ry="1.5" transform="rotate(0 768.1 192.8)" fill="#111"/></g>
<g ><path d="M423,347.5 L440.5,353.4 L439,368 L424,368 Q419,358 423,347.5 Z" fill="#c8c8c8" stroke="#666" stroke-width="0.7"/><path d="M424.5,350 L423.5,367 M426.5,350.5 L425.5,367.5 M428.5,351 L427.5,368 M430.5,351.5 L429.5,368 M432.5,352 L431.5,368 M434.5,352.5 L433.5,368 M436.5,353 L435.5,368 M438.5,353.3 L437.5,368" stroke="#999" stroke-width="0.7"/><path d="M423,347.5 L430,342.4 L445.7,348.7 L440.5,353.4 Z" fill="#fff" stroke="#555" stroke-width="0.8"/><path d="M423.5,347.8 L440.2,353.2" fill="none" stroke="#555" stroke-width="1.8" stroke-dasharray="1.4 1.1"/><path d="M430,342.4 L433,343 M436,344.5 L439,346" fill="none" stroke="#666" stroke-width="0.7"/><path d="M445.7,348.7 L444,352 L440.5,353.4 M443,351 L441.5,366" fill="none" stroke="#666" stroke-width="0.7"/></g><g ><path d="M449.8,343.4 L463.6,343.8 L474.6,348.9 L491.1,358 Q499,366 496.7,376 Q494,391 479.2,399.4 L470.9,400.3 L454.4,394.8 Q444,390 442.4,385.6 L441.5,365.4 Q443,350 449.8,343.4 Z" fill="#fff" stroke="#444" stroke-width="0.9"/><path d="M451,345 Q444,356 443.5,366 L444,385" fill="none" stroke="#666" stroke-width="0.7"/><ellipse cx="470" cy="372.5" rx="23" ry="23.5" transform="rotate(0 470 372.5)" fill="none" stroke="#444" stroke-width="0.9"/><ellipse cx="471.5" cy="373.5" rx="20.5" ry="21.5" transform="rotate(0 471.5 373.5)" fill="none" stroke="#777" stroke-width="0.7"/><path d="M446,381 L451,379 L452,388 L466,394 L467,399 M450,384 L465,390.5 M456,378 L475,385 L478,380 M473,355 L489,361 L488,365 L472,359 Z" fill="none" stroke="#444" stroke-width="0.8"/><path d="M479,384 Q470,392 462,394" fill="none" stroke="#333" stroke-width="0.9"/><path d="M444.5,375 L447.5,374 L448,380 M486,378 L492,376" fill="none" stroke="#555" stroke-width="0.7"/></g><g ><ellipse cx="536" cy="404" rx="6.2" ry="9.4" transform="rotate(22 536 404)" fill="#fff" stroke="#444" stroke-width="0.9"/><ellipse cx="537" cy="404.5" rx="3.6" ry="6" transform="rotate(22 537 404.5)" fill="none" stroke="#444" stroke-width="0.9"/></g><g ><ellipse cx="568.8" cy="416.3" rx="6" ry="9.8" transform="rotate(22 568.8 416.3)" fill="#fff" stroke="#333" stroke-width="0.9"/><ellipse cx="569.5" cy="416.6" rx="3.4" ry="5.8" transform="rotate(22 569.5 416.6)" fill="none" stroke="#555" stroke-width="0.7"/></g><ellipse cx="593.5" cy="428" rx="3.2" ry="5" transform="rotate(30 593.5 428)" fill="#fff" stroke="#333" stroke-width="0.9"/><g ><path d="M844,264 L848,262 L853,262.5 L868.8,271 L871.1,276 L892.4,283.5 L895,282 L905,286.5 L929.9,301 L933,303.5 L954.8,310.5 Q959.5,314 958.6,322.4 L954.8,344.8 Q951,355 944.8,359.8 L932.4,361.5 L922.4,355 L905,350 L895,349 Q886,352 883,362 L877,385 L872.7,408.8 L868,440 L866.5,460 L862.5,468 L860,479.6 L808,461 L805.5,448 L804.8,435.3 L812,433 L829.4,434.4 L831.3,406.8 L836,384 L832.3,362.5 L833,356 L838,340 L835,333 L812.1,320.5 L812.7,312.9 L821.5,314.6 L822.7,316.4 Z" fill="#fff" stroke="#333" stroke-width="1"/><path d="M848.7,265.6 L826.8,315.2 M852,268 Q841,290 831,314" fill="none" stroke="#444" stroke-width="0.8"/><path d="M812.1,320.5 L839.2,329.4 M813,323.5 L838,332" fill="none" stroke="#555" stroke-width="1.2"/><path d="M855.8,278.6 L899.5,296.3 L931,310 M857,273 L869,278 L871,282 L893,290 L905,293 L930,305" fill="none" stroke="#444" stroke-width="0.8"/><path d="M893.7,283.7 L896,289 M905,291.2 L907,296" fill="none" stroke="#555" stroke-width="0.7"/><path d="M932.4,306 L953,312.5 Q957,316 956,323 L952.5,344 Q949.5,353 943.5,357 L933,358 L923.5,352.5" fill="none" stroke="#444" stroke-width="0.8"/><path d="M937.4,311.2 L921.1,349.8 M941,313 L925,351" fill="none" stroke="#444" stroke-width="0.8"/><path d="M947,328 L943,344 M949,329 L945,345 M951,330 L947,346" fill="none" stroke="#666" stroke-width="0.6"/><path d="M835.7,318.8 L905,342.4 L922,349 M838,324 L905,346.5 M884,344.8 L924.9,351" fill="none" stroke="#444" stroke-width="0.8"/><path d="M864,299.9 L931,327.4 M861,308 L928,336 M880,321.1 L926,340 M858,316 L905,335" fill="none" stroke="#444" stroke-width="0.75"/><path d="M887.6,295.1 Q878,312 871.1,331.7 M890.5,296.5 Q881,313 874,333 M913.7,300 Q904,320 896.2,341.1 M916.5,301.5 Q907,321 899,342.5 M873,288 Q867,300 862,311" fill="none" stroke="#444" stroke-width="0.8"/><path d="M917,326 Q913,331 916,337 M921,327 Q917,332 920,338 M925,328 Q921,333 924,339" fill="none" stroke="#444" stroke-width="0.8"/><path d="M855,293 L861,288 L858,297 Z M846,300 L846,308 M848,299 L849,306 M842,312 L849,315 L847,319" fill="none" stroke="#333" stroke-width="0.8"/><path d="M851,305 L857,300 L860,306 L858,316 L852,318 Z M862,300 L866,297 L868,303 M856,323 L864,320 L868,327" fill="none" stroke="#555" stroke-width="0.7"/><path d="M843,344 L855,341 L863,345 L860,352 L846,350 Z" fill="none" stroke="#444" stroke-width="0.8"/><path d="M838,338 L836,356 L842,362 M841,367 Q848,378 846,394 L843,410 L838,432 M852,372 L866,372 L874,380 L868,384 L853,381 Z" fill="none" stroke="#555" stroke-width="0.7"/><path d="M879,371 L870,409 L866,440 L863,458 M882,375 L874,410 L870,441" fill="none" stroke="#555" stroke-width="0.7"/><path d="M885,360 L876,398 M888,362 L879,400" fill="none" stroke="#777" stroke-width="0.7"/><path d="M838,384 Q852,400 850,420 M839,396 Q852,402 858,398 M838,410 L858,414 M838,424 L858,428" fill="none" stroke="#666" stroke-width="0.6"/><path d="M842,338 L836,362 L841,384 L836,407 L834,433 M846,339 L840,362 L845,384 L840,407 L838,436" fill="none" stroke="#555" stroke-width="0.7"/><path d="M898,352 Q888,356 886,366 L880,388 L875,410 L871,440 L869,458 M902,354 Q892,359 890,369 L884,391 L879,413 L875,442 L873,460" fill="none" stroke="#555" stroke-width="0.7"/><path d="M884,372 L876,412 M886.5,373 L878.5,413 M889,374 L881,414" fill="none" stroke="#444" stroke-width="0.8"/><path d="M855.5,391 L861.5,392.5 L859.5,421.5 L853.5,420 Z M857,394 L859.5,394.5 L858,418.5 L855.5,418 Z" fill="none" stroke="#333" stroke-width="0.8"/><path d="M845,336 L866,341 L869,350 L862,357 L848,356 M849,340 L862,344 L864,351" fill="none" stroke="#555" stroke-width="0.7"/><path d="M840,398 Q856,410 854,440 M843,372 Q852,378 851,390" fill="none" stroke="#666" stroke-width="0.7"/><path d="M862,377 L868,380 L866,388 M846,380 L852,384 L849,391 M847,384 L851,372" fill="none" stroke="#444" stroke-width="0.8"/><path d="M840,432 L866,440 M838,437 L864,446" fill="none" stroke="#555" stroke-width="0.7"/><path d="M858,284 L869,289 L872,296 L868,300 M880,293 L900,301 L905,308 M862,320 L900,336 M870,305 L880,309 L878,318 L868,314 Z" fill="none" stroke="#555" stroke-width="0.7"/><path d="M846,305 L852,300 L856,304 L853,313 L847,313 Z M843,292 L847,287 L850,289" fill="none" stroke="#444" stroke-width="0.8"/><path d="M900,340 L933,352 M905,337 L937,349" fill="none" stroke="#555" stroke-width="0.7"/><path d="M941,318 L936,336 L931,346 M945,320 L940,338" fill="none" stroke="#555" stroke-width="0.7"/><path d="M806,440 L862,460 M807,447 L860,466 M808,453 L859,472" fill="none" stroke="#444" stroke-width="0.7"/><path d="M812,442 L813,452 M820,444 L821,455 M830,447 L831,458 M842,451 L843,462 M851,454 L852,465" fill="none" stroke="#555" stroke-width="0.6"/><path d="M809,450 L817,452.5 L818,458 L810,456 Z M822,455 L835,459 M838,461 L848,464" fill="none" stroke="#333" stroke-width="0.9"/></g><g ><circle cx="852.2" cy="269.8" r="3.4" fill="#fff" stroke="#444" stroke-width="0.9"/><circle cx="852.2" cy="269.8" r="1.6" fill="none" stroke="#555" stroke-width="0.7"/></g><g ><circle cx="830.4" cy="318.8" r="3.4" fill="#fff" stroke="#444" stroke-width="0.9"/><circle cx="830.4" cy="318.8" r="1.6" fill="none" stroke="#555" stroke-width="0.7"/></g><g ><circle cx="949.8" cy="318" r="3.4" fill="#fff" stroke="#444" stroke-width="0.9"/><circle cx="949.8" cy="318" r="1.6" fill="none" stroke="#555" stroke-width="0.7"/></g><g ><circle cx="932.4" cy="356" r="3.4" fill="#fff" stroke="#444" stroke-width="0.9"/><circle cx="932.4" cy="356" r="1.6" fill="none" stroke="#555" stroke-width="0.7"/></g><g ><circle cx="895" cy="353" r="3.4" fill="#fff" stroke="#444" stroke-width="0.9"/><circle cx="895" cy="353" r="1.6" fill="none" stroke="#555" stroke-width="0.7"/></g><g ><circle cx="841" cy="394" r="3.4" fill="#fff" stroke="#444" stroke-width="0.9"/><circle cx="841" cy="394" r="1.6" fill="none" stroke="#555" stroke-width="0.7"/></g><g ><circle cx="870" cy="409" r="3.4" fill="#fff" stroke="#444" stroke-width="0.9"/><circle cx="870" cy="409" r="1.6" fill="none" stroke="#555" stroke-width="0.7"/></g><g ><circle cx="828" cy="440" r="3.4" fill="#fff" stroke="#444" stroke-width="0.9"/><circle cx="828" cy="440" r="1.6" fill="none" stroke="#555" stroke-width="0.7"/></g><g ><circle cx="857" cy="464" r="3.4" fill="#fff" stroke="#444" stroke-width="0.9"/><circle cx="857" cy="464" r="1.6" fill="none" stroke="#555" stroke-width="0.7"/></g><g ><path d="M869.5,262.5 L878,260.2" stroke="#111" stroke-width="3.6"/><ellipse cx="879" cy="260" rx="1.7" ry="2.4" transform="rotate(-15 879 260)" fill="#eee" stroke="#222" stroke-width="0.8"/></g><g ><path d="M920.5,284.0 L929,281.7" stroke="#111" stroke-width="3.6"/><ellipse cx="930" cy="281.5" rx="1.7" ry="2.4" transform="rotate(-15 930 281.5)" fill="#eee" stroke="#222" stroke-width="0.8"/></g><g ><path d="M964.0,314.5 L972.5,312.2" stroke="#111" stroke-width="3.6"/><ellipse cx="973.5" cy="312" rx="1.7" ry="2.4" transform="rotate(-15 973.5 312)" fill="#eee" stroke="#222" stroke-width="0.8"/></g><g ><path d="M959.0,354.0 L967.5,351.7" stroke="#111" stroke-width="3.6"/><ellipse cx="968.5" cy="351.5" rx="1.7" ry="2.4" transform="rotate(-15 968.5 351.5)" fill="#eee" stroke="#222" stroke-width="0.8"/></g><g ><path d="M908.5,371.5 L917,369.2" stroke="#111" stroke-width="3.6"/><ellipse cx="918" cy="369" rx="1.7" ry="2.4" transform="rotate(-15 918 369)" fill="#eee" stroke="#222" stroke-width="0.8"/></g><g ><path d="M939.0,375.5 L947.5,373.2" stroke="#111" stroke-width="3.6"/><ellipse cx="948.5" cy="373" rx="1.7" ry="2.4" transform="rotate(-15 948.5 373)" fill="#eee" stroke="#222" stroke-width="0.8"/></g><g ><path d="M925.5,399.5 L934,397.2" stroke="#111" stroke-width="3.6"/><ellipse cx="935" cy="397" rx="1.7" ry="2.4" transform="rotate(-15 935 397)" fill="#eee" stroke="#222" stroke-width="0.8"/></g><g ><path d="M945.5,429.5 L954,427.2" stroke="#111" stroke-width="3.6"/><ellipse cx="955" cy="427" rx="1.7" ry="2.4" transform="rotate(-15 955 427)" fill="#eee" stroke="#222" stroke-width="0.8"/></g><g ><path d="M922.0,453.5 L930.5,451.2" stroke="#111" stroke-width="3.6"/><ellipse cx="931.5" cy="451" rx="1.7" ry="2.4" transform="rotate(-15 931.5 451)" fill="#eee" stroke="#222" stroke-width="0.8"/></g><g ><path d="M942.0,462.5 L950.5,460.2" stroke="#111" stroke-width="3.6"/><ellipse cx="951.5" cy="460" rx="1.7" ry="2.4" transform="rotate(-15 951.5 460)" fill="#eee" stroke="#222" stroke-width="0.8"/></g><g ><path d="M756,461.8 L760.7,461 L780.4,468.9 L784.3,472 L781.2,475.2 L757.6,468.1 L756,465.7 Z" fill="#1a1a1a" stroke="#111" stroke-width="0.9"/><path d="M765,466 L779.5,470.6 L781,473.2 L767,469 Z" fill="#ddd" stroke="none"/><path d="M758.5,463.5 L764,464.8 L763.5,467 L758,465.8 Z" fill="none" stroke="#ccc" stroke-width="0.6"/></g><g ><path d="M737.1,503.5 L745.7,501.2 L755.2,503.5 L757,507 L761,507.5 L766.2,511.4 L772,511 L776,514 L793,521 L793.8,526 L791,530 L792,536 L789.8,549.2 L783,552 L777.2,555.5 L768,553 L757,547 L753.6,543 L753.6,536.6 L739.4,535.8 L737.1,533.5 L738,524 L741.8,516.1 L739,510 Z" fill="#fff" stroke="#333" stroke-width="0.9"/><path d="M741.8,516.1 Q740,526 740.5,533 M744,517 L752,519 L752.5,536 M739,510 L754,513.5 M745.7,501.2 L744,506 L756,510 M741,505 L754,509" fill="none" stroke="#444" stroke-width="0.8"/><path d="M759,511.5 L756.5,527 L755.5,545 M759,511.5 L787,520.5 L793,521 M756.5,527 L788,537.5 M777.2,555.5 L779,540 L781,528 M788,537.5 L789.8,549.2" fill="none" stroke="#333" stroke-width="0.85"/><path d="M761,517 L766,513.5 L770,518 L774,515 L778,520 M776,520 L780,517 L784,522 L788,520 M761,532 L765,528.5 L768,533 L772,530 L775,535 M773,540 L777,537 L780,542 M760,541 L764,538 L767,543 L770,540.5 L772,546" fill="none" stroke="#333" stroke-width="0.8"/><circle cx="763.5" cy="523" r="1.1" fill="none" stroke="#333" stroke-width="0.7"/><circle cx="772" cy="526" r="1.1" fill="none" stroke="#333" stroke-width="0.7"/><circle cx="768" cy="536" r="1.1" fill="none" stroke="#333" stroke-width="0.7"/><circle cx="766" cy="548" r="1.1" fill="none" stroke="#333" stroke-width="0.7"/><path d="M782,530 L790,532 L789,537 L781,535 Z M782,541 L789,543 L788,548 L781,546 Z M784,523 L791,525" fill="none" stroke="#333" stroke-width="0.8"/><path d="M768,510 L771,506 L775,508 L773,512 M778,513 L779,509" fill="none" stroke="#444" stroke-width="0.8"/><circle cx="782.5" cy="537.5" r="1.4" fill="#111"/></g><g ><path d="M772.5,631 L785.5,633.5 L784.5,643.5 L771.8,640.5 Z M786,633.5 L796.5,633.2 L795.8,642.5 L785.5,642 Z" fill="#fff" stroke="#444" stroke-width="0.85"/><path d="M770,626 L775,624.5 L800,627.8 L803.5,630.5 L803,633.5 L788,633.8 L770.5,630 Z" fill="#fff" stroke="#444" stroke-width="0.85"/><path d="M770.5,628 L788,631.5 L803.3,631.5 M788,631.5 L788,633.8" fill="none" stroke="#555" stroke-width="0.7"/><rect x="775" y="620.5" width="5.6" height="6" rx="1.2" fill="#fff" stroke="#444" stroke-width="0.85"/><rect x="786.3" y="620" width="5.6" height="6" rx="1.2" fill="#fff" stroke="#444" stroke-width="0.85"/><circle cx="777.8" cy="623.6" r="0.9" fill="none" stroke="#555" stroke-width="0.6"/><circle cx="789.1" cy="623.1" r="0.9" fill="none" stroke="#555" stroke-width="0.6"/></g><g ><path d="M505.5,495.5 L509.5,495 L520,499 L519.5,506.5 L516.5,507.5 L510.5,505 L505.5,502.5 Z" fill="#222" stroke="#111" stroke-width="1"/><path d="M506.6,496.8 L510.3,497.4 L510.3,503 L506.6,501.6 Z" fill="#fff" stroke="none"/><path d="M512.6,500 L517.2,501 L517,503.4 L512.6,502.4 Z M512.6,503.8 L517,505 L516.8,506.3 L512.6,505.3 Z" fill="#fff" stroke="none"/></g><g ><path d="M527.5,512.5 Q528,511 530,511.5 L544,517.5 Q545.5,518.5 545,520 L542.5,525.5 Q541,527 539,526 L527,520.5 Q525.5,519.5 526,518 Z" fill="#fff" stroke="#111" stroke-width="1.1"/><path d="M543,519 L540.5,524.5" fill="none" stroke="#444" stroke-width="0.7"/></g>
<g ><path d="M605.7,473.9 L611,473.4 L615.1,472.3 L619.3,475 L649.8,490.2 L668.3,499.4 L669.5,504.2 L701.4,515.4 L706.1,517.7 L715.6,524.2 Q721.5,530 720.9,533.7 L720.3,546.7 Q718.5,556 715.6,562 L709.7,570.3 L701.4,572.6 L687.2,569.1 L679,564.4 L669.2,565 Q655,572 648,583 L645,600 L642.5,603 L637.6,630.5 L629.8,654.1 L623.9,662 L625.8,671.8 L620,683.6 L567.8,656 L564.8,641.3 L589.4,642.3 L592.4,614.8 L594.3,585.2 L591.4,574.4 L596.3,569.5 L605.2,561.6 L610,547.9 L602.2,540 L582.6,532.2 L575.2,529 L576.3,520.6 L585.2,518.5 Q589,496 599.4,481.8 Q602,476 605.7,473.9 Z" fill="#fff" stroke="#333" stroke-width="1"/><path d="M617.2,479.7 L649.8,495.4 L667.2,503 M619,476 Q615,479 618,483 L649,498.5 M667.2,503 L693.1,513.6 L692,517 L668,507" fill="none" stroke="#444" stroke-width="0.9"/><path d="M598,491 L603,496 L599,503 M602.5,493 L607.5,498 L603.5,505 M607,495 L612,500 L608,507 M611.5,497 L616.5,502 L612.5,509 M616,499 L621,504 L617,511" fill="none" stroke="#222" stroke-width="1"/><path d="M595,489 L623,502 M593,495 L597,497 M596,503 L623,515" fill="none" stroke="#444" stroke-width="0.8"/><path d="M603,507 L602,520 M607,509 L606,522 M611,511 L610,524 M615,513 L614,526" fill="none" stroke="#555" stroke-width="0.8"/><path d="M622.5,507 L629,497.5 L637,495 L700,523 L704,527 L690,548 L684,550 L627,526 Z" fill="none" stroke="#333" stroke-width="1"/><path d="M618,510 L626,493 L636,489 L705,519 L711,526 L703,530 L694,549 L688,556 L624,530 Z" fill="none" stroke="#444" stroke-width="0.8"/><path d="M628.3,507 L632,502 L673,520 Q677,524 675.4,528 L672.6,535.1 L632,518 L627.4,514 Z" fill="none" stroke="#333" stroke-width="1"/><path d="M630.5,508 L633.5,504 L671.5,521 L670,532 L633,516.5 Z" fill="none" stroke="#666" stroke-width="0.6"/><path d="M676,527 Q680,532 676,539 M680.5,529 Q684.5,534 680.5,541 M685,531 Q689,536 685,543" fill="none" stroke="#111" stroke-width="1.3"/><path d="M702.6,530.4 L713.2,531 L713,534 L702.4,533.4 Z M696.7,539.3 L713.2,544 L712.6,547 L696.3,542.4 Z M694.3,550.5 L709.7,557 L708.8,560 L693.6,553.6 Z" fill="none" stroke="#333" stroke-width="0.9"/><path d="M707.3,524.2 Q712,545 695.5,571.5 M711,526 Q716,547 700,572 M714.5,529 Q719,549 705,571" fill="none" stroke="#555" stroke-width="0.7"/><path d="M693.1,530.1 L686,544.3 L688.4,558.5 L686,567 M690,528 L682,545 L684,560" fill="none" stroke="#444" stroke-width="0.8"/><path d="M624,530 L666,548 L678,556 L679,564.4 M622,534 L664,552 L674,560" fill="none" stroke="#444" stroke-width="0.8"/><path d="M576.5,522.5 L583.6,522 L584,527 L576,527.5" fill="none" stroke="#444" stroke-width="0.8"/><path d="M588.9,525.9 L604,530 L606.2,533 L604.5,536.4 L590,532 Z" fill="none" stroke="#333" stroke-width="0.9"/><rect x="592" y="527.5" width="2.2" height="2.2" fill="none" stroke="#222" stroke-width="0.6"/><rect x="596" y="529" width="2.2" height="2.2" fill="none" stroke="#222" stroke-width="0.6"/><rect x="600" y="530.5" width="2.2" height="2.2" fill="none" stroke="#222" stroke-width="0.6"/><path d="M614,535.3 L626,538.5 Q628,540 626.5,541.8 L615,539 Q612,537 614,535.3 Z" fill="none" stroke="#444" stroke-width="0.8"/><path d="M585.7,518.5 L622,534 M586,521 L610,531" fill="none" stroke="#555" stroke-width="0.7"/><path d="M595.3,579.3 L618,575.4 L615,612.8 L605.2,616.7 L602.2,634.4 L596,636" fill="none" stroke="#444" stroke-width="0.8"/><path d="M597,583 L615,579.5 L612.5,610 L603,613" fill="none" stroke="#555" stroke-width="0.7"/><path d="M600.5,617 L596,619 L596,631 L601,629" fill="none" stroke="#555" stroke-width="0.7"/><path d="M623.9,577.4 L620,634.4 M627,574 L623.5,633 M630.5,571 L627,632 M621,636 L631,640" fill="none" stroke="#444" stroke-width="0.8"/><path d="M611,552 L622,546 L625,560 L623,577 M607,557 L619,550" fill="none" stroke="#555" stroke-width="0.7"/><path d="M633.7,589.2 L629.8,636.4 M637,586 L633,640 M640,600 L645,605 M636,612 L642,616 M635,624 L640,628" fill="none" stroke="#555" stroke-width="0.7"/><path d="M624.8,545.9 L669.1,557.7 L639.6,579.3 Z" fill="none" stroke="#444" stroke-width="0.8"/><path d="M628,549 L662,558.5 L640,575" fill="none" stroke="#666" stroke-width="0.6"/><path d="M592,640 Q610,652 628,651 M591,645 Q612,657 628,656 M589.5,637 Q600,645 631,646" fill="none" stroke="#444" stroke-width="0.8"/><path d="M567,646 L622,668 M568,652 L621,675 M583,650 L583,660 M603,658 L603,670" fill="none" stroke="#444" stroke-width="0.8"/><path d="M604,594 Q615,610 612,640" fill="none" stroke="#666" stroke-width="0.6"/></g><g ><circle cx="627" cy="549" r="0.95" fill="none" stroke="#555" stroke-width="0.55"/><circle cx="631" cy="551" r="0.95" fill="none" stroke="#555" stroke-width="0.55"/><circle cx="635" cy="552" r="0.95" fill="none" stroke="#555" stroke-width="0.55"/><circle cx="639" cy="553" r="0.95" fill="none" stroke="#555" stroke-width="0.55"/><circle cx="643" cy="554" r="0.95" fill="none" stroke="#555" stroke-width="0.55"/><circle cx="629" cy="554" r="0.95" fill="none" stroke="#555" stroke-width="0.55"/><circle cx="633" cy="556" r="0.95" fill="none" stroke="#555" stroke-width="0.55"/><circle cx="637" cy="557.5" r="0.95" fill="none" stroke="#555" stroke-width="0.55"/><circle cx="641" cy="559" r="0.95" fill="none" stroke="#555" stroke-width="0.55"/><circle cx="645" cy="560" r="0.95" fill="none" stroke="#555" stroke-width="0.55"/><circle cx="649" cy="560" r="0.95" fill="none" stroke="#555" stroke-width="0.55"/><circle cx="631" cy="559" r="0.95" fill="none" stroke="#555" stroke-width="0.55"/><circle cx="635" cy="561" r="0.95" fill="none" stroke="#555" stroke-width="0.55"/><circle cx="639" cy="562.5" r="0.95" fill="none" stroke="#555" stroke-width="0.55"/><circle cx="643" cy="564" r="0.95" fill="none" stroke="#555" stroke-width="0.55"/><circle cx="647" cy="565" r="0.95" fill="none" stroke="#555" stroke-width="0.55"/><circle cx="634" cy="565" r="0.95" fill="none" stroke="#555" stroke-width="0.55"/><circle cx="638" cy="566.5" r="0.95" fill="none" stroke="#555" stroke-width="0.55"/><circle cx="642" cy="568" r="0.95" fill="none" stroke="#555" stroke-width="0.55"/><circle cx="636" cy="570" r="0.95" fill="none" stroke="#555" stroke-width="0.55"/><circle cx="640" cy="572" r="0.95" fill="none" stroke="#555" stroke-width="0.55"/><circle cx="645" cy="569" r="0.95" fill="none" stroke="#555" stroke-width="0.55"/><circle cx="600" cy="585" r="0.95" fill="none" stroke="#555" stroke-width="0.55"/><circle cx="604" cy="584" r="0.95" fill="none" stroke="#555" stroke-width="0.55"/><circle cx="608" cy="583" r="0.95" fill="none" stroke="#555" stroke-width="0.55"/><circle cx="612" cy="582" r="0.95" fill="none" stroke="#555" stroke-width="0.55"/><circle cx="599" cy="590" r="0.95" fill="none" stroke="#555" stroke-width="0.55"/><circle cx="603" cy="589" r="0.95" fill="none" stroke="#555" stroke-width="0.55"/><circle cx="607" cy="588" r="0.95" fill="none" stroke="#555" stroke-width="0.55"/><circle cx="611" cy="587" r="0.95" fill="none" stroke="#555" stroke-width="0.55"/><circle cx="599" cy="595" r="0.95" fill="none" stroke="#555" stroke-width="0.55"/><circle cx="603" cy="594" r="0.95" fill="none" stroke="#555" stroke-width="0.55"/><circle cx="607" cy="593" r="0.95" fill="none" stroke="#555" stroke-width="0.55"/><circle cx="611" cy="592" r="0.95" fill="none" stroke="#555" stroke-width="0.55"/><circle cx="599" cy="600" r="0.95" fill="none" stroke="#555" stroke-width="0.55"/><circle cx="603" cy="599" r="0.95" fill="none" stroke="#555" stroke-width="0.55"/><circle cx="607" cy="598" r="0.95" fill="none" stroke="#555" stroke-width="0.55"/><circle cx="611" cy="597" r="0.95" fill="none" stroke="#555" stroke-width="0.55"/><circle cx="600" cy="605" r="0.95" fill="none" stroke="#555" stroke-width="0.55"/><circle cx="604" cy="604" r="0.95" fill="none" stroke="#555" stroke-width="0.55"/><circle cx="608" cy="603" r="0.95" fill="none" stroke="#555" stroke-width="0.55"/><circle cx="600" cy="610" r="0.95" fill="none" stroke="#555" stroke-width="0.55"/><circle cx="604" cy="609" r="0.95" fill="none" stroke="#555" stroke-width="0.55"/><circle cx="608" cy="608" r="0.95" fill="none" stroke="#555" stroke-width="0.55"/></g><g ><path d="M192.4,593.4 L225.5,581.7 L242.4,585.6 L247.6,589.5 L281.4,601.9 L282.7,607 L291.8,616.8 Q304,628 300,642 Q296,651 288,652.5 L271,649.3 L195.6,619.4 Q185,614 186,606 Q187,598 192.4,593.4 Z" fill="#fff" stroke="#111" stroke-width="2"/><path d="M195,597 L226,586 L281,606 L289,617" fill="none" stroke="#222" stroke-width="1"/><path d="M226,582 L228,595 M228,595 L282,615" fill="none" stroke="#222" stroke-width="1"/><path d="M230,590 L265,602 L266,608 L231,597 Z" fill="none" stroke="#333" stroke-width="0.9"/><path d="M267,600 L268,611 M269,601 L270,612 M271,602 L272,613 M273,603 L274,614 M275,603.5 L276,614.5 M277,604.5 L278,615 M279,605 L280,615.5" stroke="#111" stroke-width="1"/><path d="M283,617 Q297,624 295,640 Q292,649 286,650" fill="none" stroke="#333" stroke-width="0.9"/><path d="M281,641 L300,639" fill="none" stroke="#444" stroke-width="0.7"/><rect x="-43" y="-13" width="86" height="26" rx="13" transform="translate(236 621) rotate(19.5)" fill="#fff" stroke="#111" stroke-width="2.2"/><rect x="-40" y="-10.5" width="80" height="21" rx="10.5" transform="translate(236 621) rotate(19.5)" fill="none" stroke="#222" stroke-width="1"/><text transform="translate(206.5 613.8) skewY(19) skewX(-10) scale(0.62 1)" font-family="Liberation Sans" font-weight="bold" font-size="12.6" letter-spacing="1" fill="#111" stroke="#111" stroke-width="0.5">LITHIUM–12V</text></g>
<g stroke="#777" stroke-width="0.9" fill="none"><path d="M6,158.0 L37,172.2"/><path d="M101,201.4 L268,277.7"/><path d="M286,285.9 L584,422.0"/><path d="M604,431.1 L653.7,453.8"/><path d="M80,83.8 L168,124.2"/><path d="M173,126.5 L179,129.3"/><path d="M185.6,132.3 L272,172.0"/><path d="M279.2,175.3 L285.6,178.3"/><path d="M292,181.2 L377.6,220.5"/><path d="M386.4,224.6 L391.2,226.8"/><path d="M397.6,229.7 L484,269.4"/><path d="M490.8,272.5 L498,275.8"/><path d="M504.4,278.8 L590,318.1"/><path d="M596.4,321.0 L602.8,324.0"/><path d="M610.8,327.6 L696,366.8"/><path d="M93,58 L80,83"/><path d="M93,58 L112,66"/><path d="M165,89.1 L470,222.3"/><path d="M477,225.3 L484,228.4"/><path d="M491,231.5 L675,311.8"/><path d="M675,311.78700000000003 L809,374"/><path d="M611,141 L592,179"/><path d="M611,141.0 L688.75,174.8"/><path d="M695,177.6 L702.5,180.8"/><path d="M710,184.1 L787,217.6"/><path d="M592,179.0 L640.6,200.7"/><path d="M647.6,203.9 L654.6,207.0"/><path d="M661.6,210.1 L745,247.4"/><path d="M753.5,251.2 L761,254.6"/><path d="M768,257.7 L817,279.6"/><path d="M817,279.6 L797,325.8 L830,346 L809,374"/><path d="M696,366 L653.7,454"/></g>
<path d="M24.7,126.6 L21.6,162.2 M85.3,148.9 L79.2,165.2 M147.2,168.4 L133.4,208.4 M191.9,188.7 L181.4,232.4 M227.4,204.7 L217.2,246.2 M275.6,225.5 L271.2,265.4 M317.6,245.6 L312,282.8 M349.4,260.9 L335.4,306.6 M393.3,281.2 L388,321.9 M428.4,297.1 L423.8,346.3 M456.0,310.6 L444,344 M503.2,332.7 L482.5,377.3 M559.2,359.4 L536.8,401.7 M590.9,372.5 L573,407.5 M621.5,386.8 L591.1,431.6 M121.8,32.1 L121.5,60.3 M157.0,41.8 L159.3,76.5 M189.6,53.2 L183.9,88 M222.5,70.1 L217.5,104 M254.7,85.4 L248.5,122 M285.4,98.2 L276.5,130.5 M316.6,110.8 L308,134 M348.8,124.7 L341.8,144 M379.1,138.9 L360.7,180.6 M412.8,150.1 L402,174.1 M445.5,165.6 L428.7,194.7 M478.3,180.2 L458.6,212.4 M511.9,196.3 L498.9,223.6 M547.7,207.2 L537.1,235.8 M581.2,223.3 L570,259.6 M615.2,235.5 L604.8,266.8 M644.2,251.6 L633.6,277.6 M673.2,263.4 L654,290.8 M706.0,279.8 L686.7,302.5 M737.3,292.5 L703.2,325.7 M771.4,307.5 L732.5,344.5 M663.4,92.9 L651.25,131.25 M761.1,133.6 L754,168.8 M801.7,156.3 L763.6,192 M922.5,242.0 L897,293 M977.2,263.7 L971,310 M822.1,481.4 L784.3,472.8 M829.6,527.3 L790.6,535.8 M838.4,608.6 L790.8,619.4 M837.5,640.7 L803.4,632 M475.6,489.8 L505.6,500.4 M485.8,520.0 L526,517.7 M493.0,558.3 L623.8,557.1 M342.0,728.1 L280,642.8 M336.4,591.5 L287,525 " stroke="#777" stroke-width="0.85" fill="none"/><g fill="#111"><circle cx="181.4" cy="232.4" r="1.9"/><circle cx="217.2" cy="246.2" r="1.9"/><circle cx="271.2" cy="265.4" r="1.9"/><circle cx="312" cy="282.8" r="1.9"/><circle cx="335.4" cy="306.6" r="1.9"/><circle cx="388" cy="321.9" r="1.9"/><circle cx="482.5" cy="377.3" r="1.9"/><circle cx="536.8" cy="401.7" r="1.9"/><circle cx="573" cy="407.5" r="1.9"/><circle cx="591.1" cy="431.6" r="1.9"/><circle cx="121.5" cy="60.3" r="1.9"/><circle cx="159.3" cy="76.5" r="1.9"/><circle cx="183.9" cy="88" r="1.9"/><circle cx="217.5" cy="104" r="1.9"/><circle cx="248.5" cy="122" r="1.9"/><circle cx="276.5" cy="130.5" r="1.9"/><circle cx="308" cy="134" r="1.9"/><circle cx="341.8" cy="144" r="1.9"/><circle cx="360.7" cy="180.6" r="1.9"/><circle cx="402" cy="174.1" r="1.9"/><circle cx="428.7" cy="194.7" r="1.9"/><circle cx="458.6" cy="212.4" r="1.9"/><circle cx="498.9" cy="223.6" r="1.9"/><circle cx="537.1" cy="235.8" r="1.9"/><circle cx="570" cy="259.6" r="1.9"/><circle cx="604.8" cy="266.8" r="1.9"/><circle cx="633.6" cy="277.6" r="1.9"/><circle cx="654" cy="290.8" r="1.9"/><circle cx="686.7" cy="302.5" r="1.9"/><circle cx="703.2" cy="325.7" r="1.9"/><circle cx="732.5" cy="344.5" r="1.9"/><circle cx="651.25" cy="131.25" r="1.9"/><circle cx="754" cy="168.8" r="1.9"/><circle cx="763.6" cy="192" r="1.9"/></g>
<g fill="#fff" stroke="#888" stroke-width="1.05"><circle cx="26" cy="111.9" r="14.8"/><circle cx="91.3" cy="133" r="17"/><circle cx="152.4" cy="153.3" r="16"/><circle cx="195.6" cy="173.2" r="15.9"/><circle cx="231.1" cy="189.4" r="15.7"/><circle cx="277.3" cy="209.8" r="15.8"/><circle cx="320" cy="229.9" r="15.9"/><circle cx="354" cy="245.8" r="15.8"/><circle cx="395.4" cy="265.3" r="16"/><circle cx="429.9" cy="281.3" r="15.9"/><circle cx="461.5" cy="295.4" r="16.2"/><circle cx="509.9" cy="318.2" r="16"/><circle cx="566.5" cy="345.7" r="15.5"/><circle cx="597.9" cy="358.7" r="15.5"/><circle cx="630.4" cy="373.6" r="15.9"/><circle cx="121.9" cy="17.3" r="14.8"/><circle cx="156" cy="27" r="14.8"/><circle cx="192" cy="38.5" r="14.9"/><circle cx="225" cy="53.4" r="16.9"/><circle cx="257.6" cy="68.5" r="17.1"/><circle cx="289.9" cy="81.9" r="16.9"/><circle cx="322.5" cy="94.9" r="17"/><circle cx="354.6" cy="108.7" r="17"/><circle cx="386" cy="123.4" r="17"/><circle cx="419.7" cy="134.8" r="16.8"/><circle cx="453.9" cy="151" r="16.8"/><circle cx="487" cy="166" r="16.7"/><circle cx="519.2" cy="180.8" r="17.1"/><circle cx="553.6" cy="191.2" r="17.1"/><circle cx="586" cy="207.5" r="16.5"/><circle cx="620.6" cy="219.5" r="16.9"/><circle cx="650.6" cy="236" r="16.9"/><circle cx="682.9" cy="249.5" r="17"/><circle cx="715.9" cy="268" r="15.4"/><circle cx="749.1" cy="281" r="16.5"/><circle cx="783.6" cy="295.9" r="16.8"/><circle cx="668.4" cy="77.1" r="16.6"/><circle cx="764.4" cy="117" r="16.9"/><circle cx="814" cy="144.8" r="16.8"/><circle cx="930.1" cy="226.9" r="16.9"/><circle cx="979.4" cy="246.9" r="16.9"/><circle cx="838.6" cy="485.1" r="16.9"/><circle cx="846.2" cy="523.7" r="17"/><circle cx="854.9" cy="604.9" r="16.9"/><circle cx="854" cy="644.9" r="17"/><circle cx="459.6" cy="484.2" r="17"/><circle cx="468.8" cy="520.9" r="17"/><circle cx="476" cy="558.4" r="17"/><circle cx="351.9" cy="741.8" r="16.9"/><circle cx="346.5" cy="605.1" r="17"/></g>
<g font-family="Liberation Serif" text-anchor="middle" fill="#111" stroke="#111" stroke-width="0.45"><text transform="translate(27.20 119.50) scale(0.6 1)" font-size="21.21" letter-spacing="1.4">1</text><text transform="translate(92.50 141.60) scale(0.6 1)" font-size="24.24" letter-spacing="1.4">2</text><text transform="translate(153.60 161.47) scale(0.6 1)" font-size="22.94" letter-spacing="1.4">3</text><text transform="translate(196.80 181.32) scale(0.6 1)" font-size="22.80" letter-spacing="1.4">4</text><text transform="translate(232.30 197.43) scale(0.6 1)" font-size="22.51" letter-spacing="1.4">5</text><text transform="translate(278.50 217.88) scale(0.6 1)" font-size="22.65" letter-spacing="1.4">6</text><text transform="translate(321.20 238.02) scale(0.6 1)" font-size="22.80" letter-spacing="1.4">7</text><text transform="translate(355.20 253.88) scale(0.6 1)" font-size="22.65" letter-spacing="1.4">8</text><text transform="translate(396.60 273.47) scale(0.6 1)" font-size="22.94" letter-spacing="1.4">9</text><text transform="translate(428.00 289.42) scale(0.6 1)" font-size="22.80">1</text><text transform="translate(441.80 289.42) scale(0.6 1)" font-size="22.80">0</text><text transform="translate(462.70 303.67) scale(0.6 1)" font-size="23.23" letter-spacing="1.4">11</text><text transform="translate(511.10 326.37) scale(0.6 1)" font-size="22.94" letter-spacing="1.4">12</text><text transform="translate(567.70 353.63) scale(0.6 1)" font-size="22.22" letter-spacing="1.4">13</text><text transform="translate(599.10 366.63) scale(0.6 1)" font-size="22.22" letter-spacing="1.4">14</text><text transform="translate(631.60 381.72) scale(0.6 1)" font-size="22.80" letter-spacing="1.4">15</text><text transform="translate(123.10 24.90) scale(0.6 1)" font-size="21.21" letter-spacing="1.4">16</text><text transform="translate(157.20 34.60) scale(0.6 1)" font-size="21.21" letter-spacing="1.4">17</text><text transform="translate(193.20 46.15) scale(0.6 1)" font-size="21.36" letter-spacing="1.4">18</text><text transform="translate(221.20 62.00) scale(0.6 1)" font-size="24.23">1</text><text transform="translate(234.20 62.00) scale(0.6 1)" font-size="24.23">9</text><text transform="translate(254.50 77.10) scale(0.6 1)" font-size="24.24">2</text><text transform="translate(265.30 77.10) scale(0.6 1)" font-size="24.24">0</text><text transform="translate(291.10 90.50) scale(0.6 1)" font-size="24.23" letter-spacing="1.4">21</text><text transform="translate(323.70 103.50) scale(0.6 1)" font-size="24.24" letter-spacing="1.4">22</text><text transform="translate(355.80 117.30) scale(0.6 1)" font-size="24.24" letter-spacing="1.4">23</text><text transform="translate(387.20 132.00) scale(0.6 1)" font-size="24.24" letter-spacing="1.4">24</text><text transform="translate(420.90 143.35) scale(0.6 1)" font-size="24.09" letter-spacing="1.4">25</text><text transform="translate(455.10 159.55) scale(0.6 1)" font-size="24.09" letter-spacing="1.4">26</text><text transform="translate(488.20 174.50) scale(0.6 1)" font-size="23.95" letter-spacing="1.4">27</text><text transform="translate(520.40 189.40) scale(0.6 1)" font-size="24.24" letter-spacing="1.4">28</text><text transform="translate(554.80 199.80) scale(0.6 1)" font-size="24.24" letter-spacing="1.4">29</text><text transform="translate(587.20 215.91) scale(0.6 1)" font-size="23.66" letter-spacing="1.4">30</text><text transform="translate(621.80 228.10) scale(0.6 1)" font-size="24.23" letter-spacing="1.4">31</text><text transform="translate(651.80 244.60) scale(0.6 1)" font-size="24.23" letter-spacing="1.4">32</text><text transform="translate(684.10 258.10) scale(0.6 1)" font-size="24.24" letter-spacing="1.4">33</text><text transform="translate(717.10 275.89) scale(0.6 1)" font-size="22.08" letter-spacing="1.4">34</text><text transform="translate(750.30 289.41) scale(0.6 1)" font-size="23.66" letter-spacing="1.4">35</text><text transform="translate(784.80 304.45) scale(0.6 1)" font-size="24.09" letter-spacing="1.4">36</text><text transform="translate(669.60 85.55) scale(0.6 1)" font-size="23.80" letter-spacing="1.4">37</text><text transform="translate(765.60 125.60) scale(0.6 1)" font-size="24.23" letter-spacing="1.4">38</text><text transform="translate(815.20 153.35) scale(0.6 1)" font-size="24.09" letter-spacing="1.4">39</text><text transform="translate(931.30 235.50) scale(0.6 1)" font-size="24.23" letter-spacing="1.4">40</text><text transform="translate(980.60 255.50) scale(0.6 1)" font-size="24.23" letter-spacing="1.4">41</text><text transform="translate(839.80 493.70) scale(0.6 1)" font-size="24.23" letter-spacing="1.4" stroke-width="0.12">42</text><text transform="translate(847.40 532.30) scale(0.6 1)" font-size="24.24" letter-spacing="1.4" stroke-width="0.12">43</text><text transform="translate(853.90 613.50) scale(0.6 1)" font-size="24.23" stroke-width="0.12">4</text><text transform="translate(863.50 613.50) scale(0.6 1)" font-size="24.23" stroke-width="0.12">4</text><text transform="translate(855.20 653.50) scale(0.6 1)" font-size="24.24" letter-spacing="1.4" stroke-width="0.12">45</text><text transform="translate(460.80 492.80) scale(0.6 1)" font-size="24.24" letter-spacing="1.4" stroke-width="0.12">46</text><text transform="translate(470.00 529.50) scale(0.6 1)" font-size="24.24" letter-spacing="1.4" stroke-width="0.12">47</text><text transform="translate(477.20 567.00) scale(0.6 1)" font-size="24.24" letter-spacing="1.4" stroke-width="0.12">48</text><text transform="translate(353.10 750.40) scale(0.6 1)" font-size="24.23" letter-spacing="1.4" stroke-width="0.12">49</text><text transform="translate(347.70 613.70) scale(0.6 1)" font-size="24.24" letter-spacing="1.4" stroke-width="0.12">50</text></g>
<g ><text transform="translate(449.5 377) scale(0.8 1)" font-family="Liberation Serif" font-size="27" letter-spacing="6.9" fill="#fff" fill-opacity="0.3" stroke="#7d6d5f" stroke-width="0.8">ИНТЕРНЕТ-</text><text transform="translate(449 408) scale(0.8 1)" font-family="Liberation Serif" font-size="27" letter-spacing="8.1" fill="#fff" fill-opacity="0.3" stroke="#7d6d5f" stroke-width="0.8">ЗАПЧАСТИ</text></g><g transform="translate(402 398) rotate(-48.5)"><rect x="5" y="-7" width="44" height="14" rx="7" fill="#fff" stroke="#4a3522" stroke-width="1.7"/><rect x="9.5" y="-3.2" width="36" height="6.4" rx="3.2" fill="none" stroke="#4a3522" stroke-width="1.4"/><path d="M10.5,-7 L10.5,-10.3 M12.3,7 L12.3,10.3 M14.1,-7 L14.1,-10.3 M15.9,7 L15.9,10.3 M17.7,-7 L17.7,-10.3 M19.5,7 L19.5,10.3 M21.3,-7 L21.3,-10.3 M23.1,7 L23.1,10.3 M24.9,-7 L24.9,-10.3 M26.7,7 L26.7,10.3 M28.5,-7 L28.5,-10.3 M30.3,7 L30.3,10.3 M32.1,-7 L32.1,-10.3 M33.9,7 L33.9,10.3 M35.7,-7 L35.7,-10.3 M37.5,7 L37.5,10.3 M39.3,-7 L39.3,-10.3 M41.1,7 L41.1,10.3 M42.9,-7 L42.9,-10.3 M44.7,7 L44.7,10.3 M43.8,-6.8 L44.7,-9.9 M46.9,-4.9 L49.3,-7.3 M48.8,-1.8 L51.9,-2.7 M48.8,1.8 L51.9,2.7 M46.9,4.9 L49.3,7.3 M43.8,6.8 L44.7,9.9 " fill="none" stroke="#4a3522" stroke-width="1.6"/></g><g ><path d="M401,383 Q403,381.5 405.5,383.5 L414,392.5 Q416.5,396 414.5,399 L408,410 Q405.5,414 401.5,412.5 L399.5,411 L396.5,412 L391,405.5 L392,402 L389,399 Q387,396 389,393.5 Z" fill="#fff" stroke="#4a3522" stroke-width="1.9"/><rect x="-1.7" y="-6" width="3.4" height="12" rx="1.7" transform="translate(401 398.5)" fill="none" stroke="#4a3522" stroke-width="1.2"/><circle cx="410.2" cy="397.2" r="0.9" fill="#4a3522"/><path d="M385.5,391.5 L384.5,387.5 L392.3,380 L396,381.5" fill="none" stroke="#4a3522" stroke-width="1.5"/></g>
<text x="222" y="505.2" font-family="Liberation Sans" font-size="21.5" fill="#444">Charger</text>
</svg>
</body></html>
